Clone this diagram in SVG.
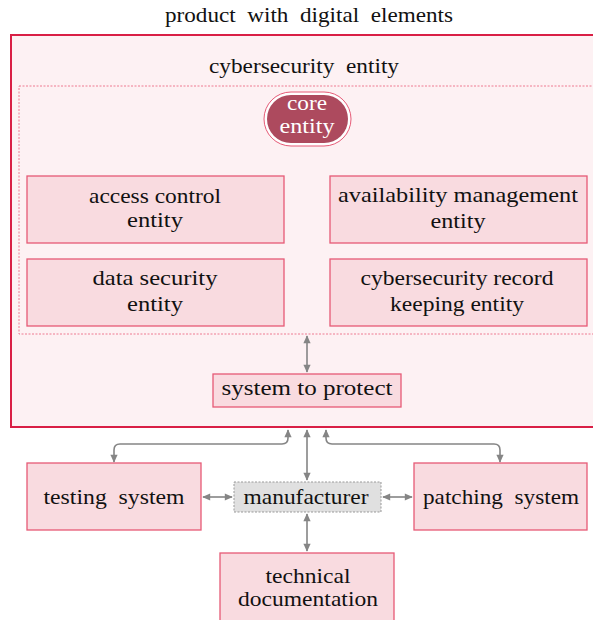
<svg xmlns="http://www.w3.org/2000/svg" width="593" height="620" viewBox="0 0 593 620">
<style>
text{font-family:'Liberation Serif','Times New Roman',serif;font-size:22px;fill:#111;text-anchor:middle}
.box{fill:#f9dbe0;stroke:#e65a76;stroke-width:1.3}
.con{fill:none;stroke:#858585;stroke-width:1.6}
</style>
<defs>
<marker id="ah" viewBox="0 0 10 10" refX="9" refY="5" markerWidth="9" markerHeight="8" markerUnits="userSpaceOnUse" orient="auto-start-reverse">
<path d="M0,0.5 L10,5 L0,9.5 z" fill="#858585"/>
</marker>
</defs>
<rect width="593" height="620" fill="#fff"/>
<text x="309" y="22" textLength="288" lengthAdjust="spacingAndGlyphs" xml:space="preserve">product  with  digital  elements</text>
<g id="product">
<rect x="11" y="35" width="590" height="392" fill="#fdf1f3" stroke="#d91f45" stroke-width="2"/>
<text x="304" y="73" textLength="190" lengthAdjust="spacingAndGlyphs" xml:space="preserve">cybersecurity  entity</text>
</g>
<g id="cyber-inner">
<rect x="19" y="86" width="580" height="248" fill="none" stroke="#ee7b91" stroke-width="1" stroke-dasharray="2,1.5"/>
</g>
<g id="core">
<rect x="264" y="92" width="87" height="54" rx="27" ry="27" fill="#fff" stroke="#e65a76" stroke-width="1"/>
<rect x="267" y="95" width="81" height="48" rx="24" ry="24" fill="#ad4a5e"/>
<text x="307" y="110" style="fill:#fff" textLength="40" lengthAdjust="spacingAndGlyphs">core</text>
<text x="307" y="133" style="fill:#fff" textLength="55" lengthAdjust="spacingAndGlyphs">entity</text>
</g>
<g id="access">
<rect class="box" x="27" y="176" width="257" height="67"/>
<text x="155" y="203" textLength="132" lengthAdjust="spacingAndGlyphs">access control</text>
<text x="155" y="227" textLength="56" lengthAdjust="spacingAndGlyphs">entity</text>
</g>
<g id="availability">
<rect class="box" x="330" y="176" width="257" height="67"/>
<text x="458" y="202" textLength="240" lengthAdjust="spacingAndGlyphs">availability management</text>
<text x="458" y="228" textLength="55" lengthAdjust="spacingAndGlyphs">entity</text>
</g>
<g id="datasec">
<rect class="box" x="27" y="259" width="257" height="67"/>
<text x="155" y="285" textLength="125" lengthAdjust="spacingAndGlyphs">data security</text>
<text x="155" y="311" textLength="56" lengthAdjust="spacingAndGlyphs">entity</text>
</g>
<g id="record">
<rect class="box" x="330" y="259" width="257" height="67"/>
<text x="457" y="285" textLength="193" lengthAdjust="spacingAndGlyphs">cybersecurity record</text>
<text x="457" y="311" textLength="134" lengthAdjust="spacingAndGlyphs">keeping entity</text>
</g>
<g id="system">
<rect class="box" x="213" y="374" width="188" height="33"/>
<text x="307" y="395" textLength="171" lengthAdjust="spacingAndGlyphs">system to protect</text>
</g>
<g id="testing">
<rect class="box" x="27" y="463" width="174" height="67"/>
<text x="114" y="504" textLength="141" lengthAdjust="spacingAndGlyphs" xml:space="preserve">testing  system</text>
</g>
<g id="manufacturer">
<rect x="234" y="482" width="147" height="30" fill="#e0e0e0" stroke="#999" stroke-width="1" stroke-dasharray="2,1.5"/>
<text x="306" y="504" textLength="125" lengthAdjust="spacingAndGlyphs">manufacturer</text>
</g>
<g id="patching">
<rect class="box" x="414" y="463" width="173" height="67"/>
<text x="501" y="504" textLength="156" lengthAdjust="spacingAndGlyphs" xml:space="preserve">patching  system</text>
</g>
<g id="techdoc">
<rect class="box" x="220" y="553" width="174" height="70"/>
<text x="308" y="583" textLength="85" lengthAdjust="spacingAndGlyphs">technical</text>
<text x="308" y="606" textLength="140" lengthAdjust="spacingAndGlyphs">documentation</text>
</g>
<g id="connectors">
<path class="con" d="M307,336 L307,372" marker-start="url(#ah)" marker-end="url(#ah)"/>
<path class="con" d="M307,430 L307,480" marker-start="url(#ah)" marker-end="url(#ah)"/>
<path class="con" d="M288,430 L288,438 Q288,444 282,444 L120,444 Q114,444 114,450 L114,462" marker-start="url(#ah)" marker-end="url(#ah)"/>
<path class="con" d="M326,430 L326,438 Q326,444 332,444 L494,444 Q500,444 500,450 L500,462" marker-start="url(#ah)" marker-end="url(#ah)"/>
<path class="con" d="M203,497 L232,497" marker-start="url(#ah)" marker-end="url(#ah)"/>
<path class="con" d="M383,497 L412,497" marker-start="url(#ah)" marker-end="url(#ah)"/>
<path class="con" d="M307,514 L307,551" marker-start="url(#ah)" marker-end="url(#ah)"/>
</g>
</svg>
